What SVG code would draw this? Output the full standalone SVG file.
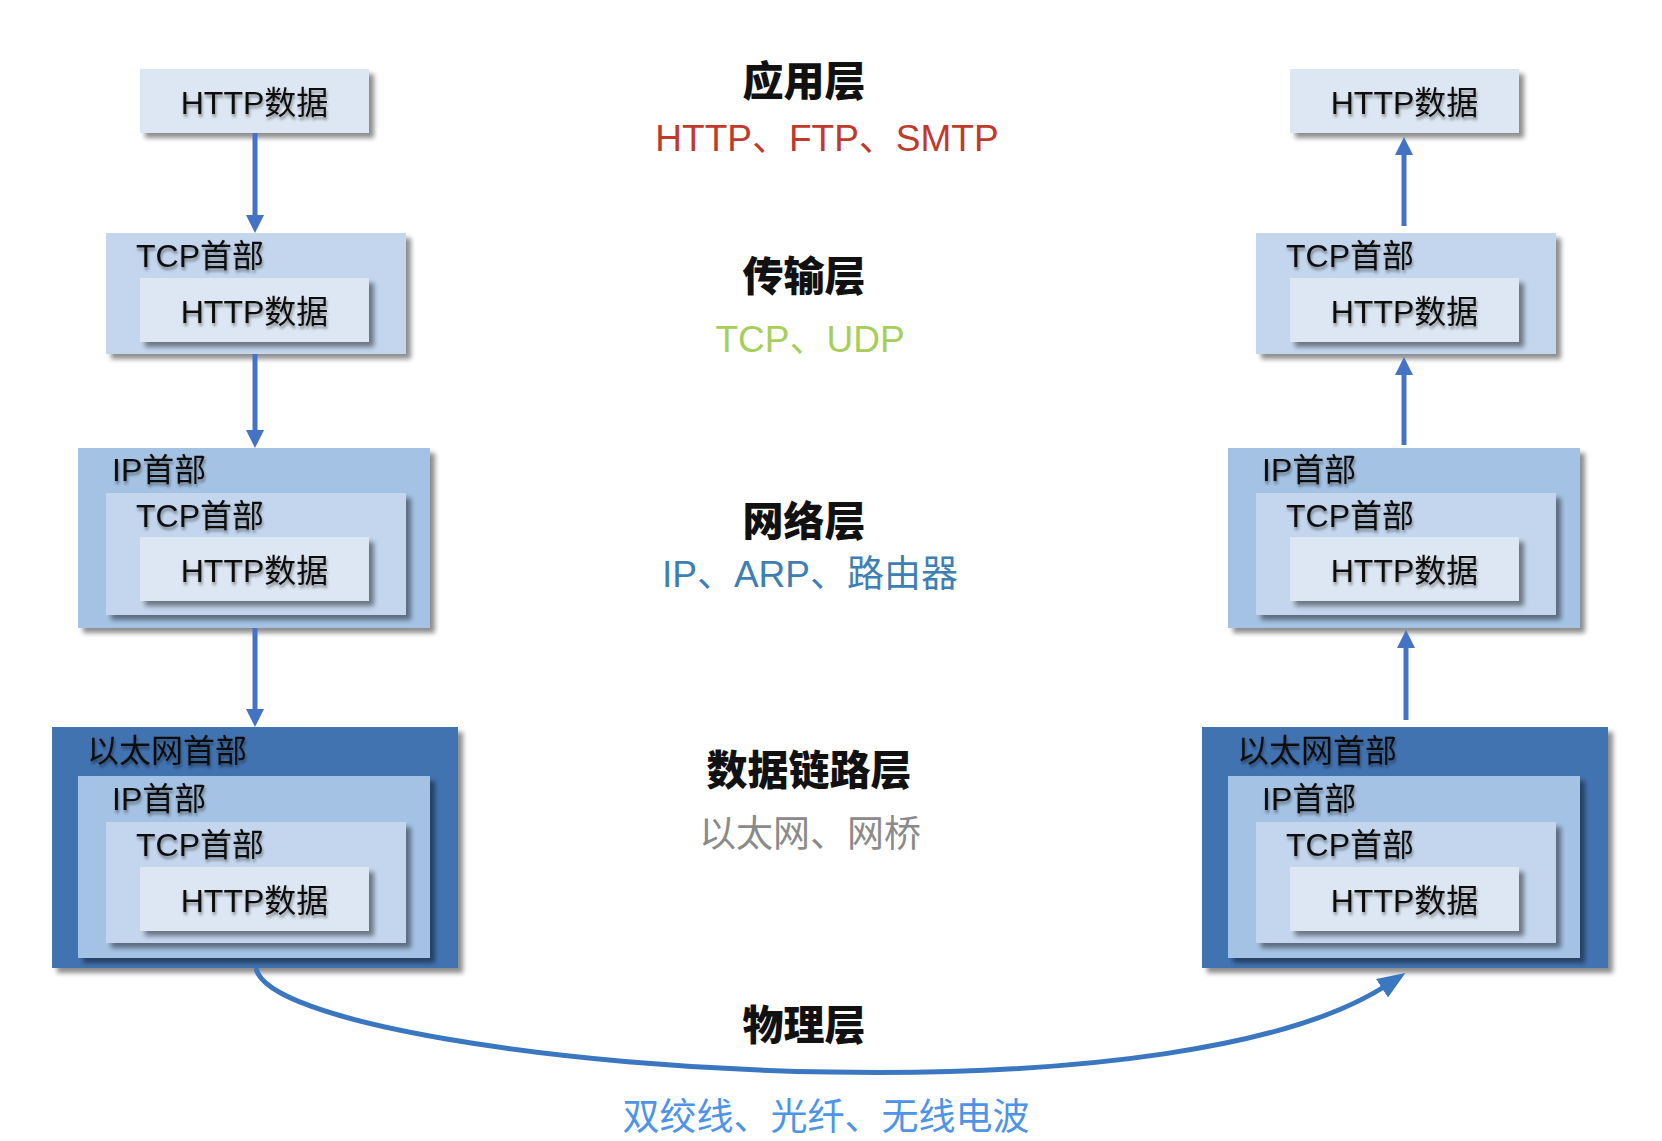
<svg xmlns="http://www.w3.org/2000/svg" width="1662" height="1141" viewBox="0 0 1662 1141">
<defs>
<style>
.http{fill:#dde7f3}
.tcp{fill:#c3d6ed}
.ip{fill:#a4c2e3}
.eth{fill:#4373b1}
.box{filter:url(#shadow)}
.lbl{font-family:"Liberation Sans","Noto Sans CJK SC",sans-serif;font-size:32px;fill:#111;filter:url(#tshadow)}
.data{text-anchor:middle}
.title{font-family:"Noto Sans CJK SC",sans-serif;font-weight:900;font-size:41px;text-anchor:middle;fill:#111}
.sub{font-family:"Liberation Sans","Noto Sans CJK SC",sans-serif;font-size:37px;text-anchor:middle}
.arrow{stroke:#4472c4;stroke-width:5;fill:none;marker-end:url(#ah)}
.curve{stroke:#3a77c0;stroke-width:5;fill:none;marker-end:url(#ah2)}
</style>
<filter id="shadow" x="-10%" y="-10%" width="130%" height="130%">
<feGaussianBlur in="SourceAlpha" stdDeviation="2.5"/>
<feOffset dx="5" dy="5"/>
<feComponentTransfer><feFuncA type="linear" slope="0.45"/></feComponentTransfer>
<feMerge><feMergeNode/><feMergeNode in="SourceGraphic"/></feMerge>
</filter>
<filter id="tshadow" x="-10%" y="-30%" width="130%" height="180%">
<feGaussianBlur in="SourceAlpha" stdDeviation="1.8"/>
<feOffset dx="1" dy="3"/>
<feComponentTransfer><feFuncA type="linear" slope="0.4"/></feComponentTransfer>
<feMerge><feMergeNode/><feMergeNode in="SourceGraphic"/></feMerge>
</filter>
<marker id="ah" markerUnits="userSpaceOnUse" markerWidth="18" markerHeight="18" refX="4" refY="9" orient="auto" viewBox="0 0 18 18"><path d="M0,0 L18,9 L0,18 z" fill="#4472c4"/></marker>
<marker id="ah2" markerUnits="userSpaceOnUse" markerWidth="28" markerHeight="22" refX="6" refY="11" orient="auto" viewBox="0 0 28 22"><path d="M0,0 L28,11 L0,22 z" fill="#3a77c0"/></marker>
</defs>
<rect width="1662" height="1141" fill="#ffffff"/>

<g id="layers">
<g id="layer-app"><text class="title" x="804" y="96">应用层</text><text class="sub" x="827" y="151" fill="#c0392b">HTTP、FTP、SMTP</text></g>
<g id="layer-transport"><text class="title" x="804" y="291">传输层</text><text class="sub" x="810" y="352" fill="#a6cf5a">TCP、UDP</text></g>
<g id="layer-network"><text class="title" x="804" y="536">网络层</text><text class="sub" x="810" y="587" fill="#3d7fb5">IP、ARP、路由器</text></g>
<g id="layer-link"><text class="title" x="809" y="785">数据链路层</text><text class="sub" x="810" y="847" fill="#8a8a8a">以太网、网桥</text></g>
<g id="layer-physical"><text class="title" x="804" y="1040">物理层</text><text class="sub" x="826" y="1130" fill="#4d94e8">双绞线、光纤、无线电波</text></g>
</g>

<g id="left-app">
<rect class="box http" x="140" y="69" width="229" height="64"/>
<text class="lbl data" x="254.5" y="114">HTTP数据</text>
</g>
<g id="left-transport">
<rect class="box tcp" x="106" y="233" width="300" height="121"/>
<text class="lbl" x="136" y="267">TCP首部</text>
<rect class="box http" x="140" y="278" width="229" height="64"/>
<text class="lbl data" x="254.5" y="323">HTTP数据</text>
</g>
<g id="left-network">
<rect class="box ip" x="78" y="448" width="352" height="180"/>
<text class="lbl" x="112" y="481">IP首部</text>
<rect class="box tcp" x="106" y="493" width="300" height="122"/>
<text class="lbl" x="136" y="527">TCP首部</text>
<rect class="box http" x="140" y="537" width="229" height="64"/>
<text class="lbl data" x="254.5" y="582">HTTP数据</text>
</g>
<g id="left-link">
<rect class="box eth" x="52" y="727" width="406" height="241"/>
<text class="lbl" x="87" y="762">以太网首部</text>
<rect class="box ip" x="78" y="776" width="352" height="182"/>
<text class="lbl" x="112" y="810">IP首部</text>
<rect class="box tcp" x="106" y="822" width="300" height="121"/>
<text class="lbl" x="136" y="856">TCP首部</text>
<rect class="box http" x="140" y="867" width="229" height="64"/>
<text class="lbl data" x="254.5" y="912">HTTP数据</text>
</g>

<g id="right-app">
<rect class="box http" x="1290" y="69" width="229" height="64"/>
<text class="lbl data" x="1404.5" y="114">HTTP数据</text>
</g>
<g id="right-transport">
<rect class="box tcp" x="1256" y="233" width="300" height="121"/>
<text class="lbl" x="1286" y="267">TCP首部</text>
<rect class="box http" x="1290" y="278" width="229" height="64"/>
<text class="lbl data" x="1404.5" y="323">HTTP数据</text>
</g>
<g id="right-network">
<rect class="box ip" x="1228" y="448" width="352" height="180"/>
<text class="lbl" x="1262" y="481">IP首部</text>
<rect class="box tcp" x="1256" y="493" width="300" height="122"/>
<text class="lbl" x="1286" y="527">TCP首部</text>
<rect class="box http" x="1290" y="537" width="229" height="64"/>
<text class="lbl data" x="1404.5" y="582">HTTP数据</text>
</g>
<g id="right-link">
<rect class="box eth" x="1202" y="727" width="406" height="241"/>
<text class="lbl" x="1237" y="762">以太网首部</text>
<rect class="box ip" x="1228" y="776" width="352" height="182"/>
<text class="lbl" x="1262" y="810">IP首部</text>
<rect class="box tcp" x="1256" y="822" width="300" height="121"/>
<text class="lbl" x="1286" y="856">TCP首部</text>
<rect class="box http" x="1290" y="867" width="229" height="64"/>
<text class="lbl data" x="1404.5" y="912">HTTP数据</text>
</g>

<g id="connectors">
<path class="arrow" d="M255,133 L255,219"/>
<path class="arrow" d="M255,354 L255,434"/>
<path class="arrow" d="M255,628 L255,713"/>
<path class="arrow" d="M1404,226 L1404,151"/>
<path class="arrow" d="M1404,445 L1404,371"/>
<path class="arrow" d="M1406,720 L1406,644"/>
<path class="curve" d="M256,968 C265,1022 560,1068 830,1072 C1080,1076 1290,1048 1387,985"/>
</g>
</svg>
